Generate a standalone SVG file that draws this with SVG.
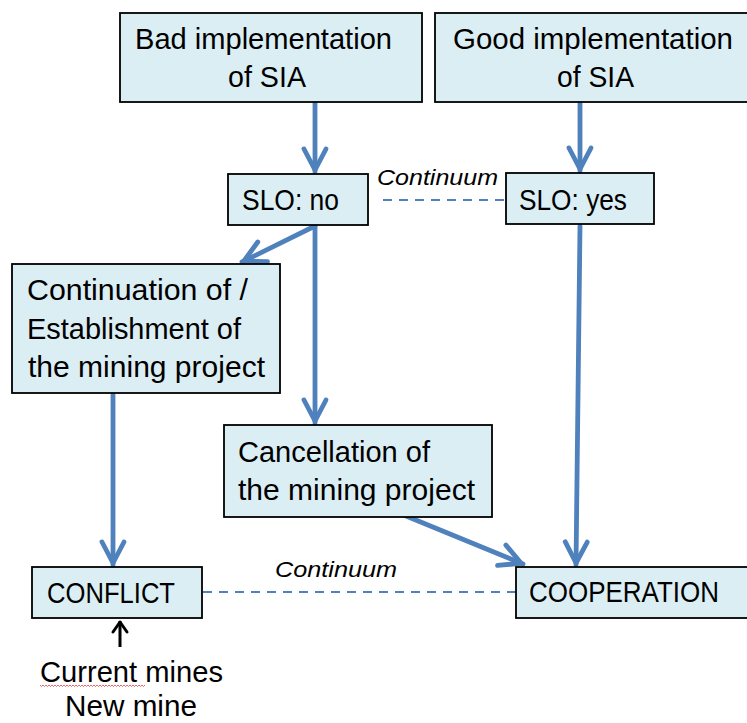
<svg xmlns="http://www.w3.org/2000/svg" width="747" height="723" viewBox="0 0 747 723">
<defs>
<style>
.box{fill:#DBEEF4;stroke:#000;stroke-width:1.8}
.t{font-family:"Liberation Sans",Arial,sans-serif;font-size:29px;fill:#000}
.it{font-family:"Liberation Sans",Arial,sans-serif;font-size:22px;font-style:italic;fill:#000}
.c{stroke:#4F81BD;stroke-width:4.8;fill:none;stroke-linecap:round}
.d{stroke:#4F81BD;stroke-width:2;fill:none;stroke-dasharray:9 7}
</style>
<marker id="ah" markerUnits="userSpaceOnUse" orient="auto" markerWidth="30" markerHeight="30" refX="2" refY="0" viewBox="-25 -15 30 30" overflow="visible">
<path d="M-21,-11 L0,0 L-21,11" fill="none" stroke="#4F81BD" stroke-width="4.8" stroke-linecap="round" stroke-linejoin="round"/>
</marker>
<marker id="ahk" markerUnits="userSpaceOnUse" orient="auto" markerWidth="20" markerHeight="20" refX="1" refY="0" viewBox="-15 -10 20 20" overflow="visible">
<path d="M-10,-7 L0,0 L-10,7" fill="none" stroke="#000" stroke-width="3" stroke-linecap="round" stroke-linejoin="round"/>
</marker>
</defs>
<rect width="747" height="723" fill="#fff"/>
<g id="connectors">
<line class="c" x1="315" y1="102" x2="315" y2="172" marker-end="url(#ah)"/>
<line class="c" x1="580" y1="102" x2="580" y2="171" marker-end="url(#ah)"/>
<line class="c" x1="315" y1="226" x2="242" y2="262" marker-end="url(#ah)"/>
<line class="c" x1="315" y1="226" x2="315" y2="423" marker-end="url(#ah)"/>
<line class="c" x1="113" y1="395" x2="113" y2="565" marker-end="url(#ah)"/>
<line class="c" x1="406" y1="516" x2="523" y2="564" marker-end="url(#ah)"/>
<line class="c" x1="580" y1="226" x2="576" y2="565" marker-end="url(#ah)"/>
<line x1="120" y1="647" x2="120" y2="621" stroke="#000" stroke-width="3" marker-end="url(#ahk)"/>
<line class="d" x1="383" y1="200" x2="505" y2="200"/>
<line class="d" x1="203" y1="592" x2="516" y2="592"/>
<text class="it" x="377" y="185" textLength="121" lengthAdjust="spacingAndGlyphs">Continuum</text>
<text class="it" x="275" y="577" textLength="122" lengthAdjust="spacingAndGlyphs">Continuum</text>
</g>
<g id="bad">
<rect class="box" x="120" y="13" width="302" height="89"/>
<text class="t" x="135" y="49" textLength="257" lengthAdjust="spacingAndGlyphs">Bad implementation</text>
<text class="t" x="228" y="87" textLength="78" lengthAdjust="spacingAndGlyphs">of SIA</text>
</g>
<g id="good">
<rect class="box" x="435" y="13" width="330" height="89"/>
<text class="t" x="453" y="49" textLength="280" lengthAdjust="spacingAndGlyphs">Good implementation</text>
<text class="t" x="557" y="87" textLength="77" lengthAdjust="spacingAndGlyphs">of SIA</text>
</g>
<g id="slo-no">
<rect class="box" x="228" y="174" width="140" height="51"/>
<text class="t" x="242" y="210" textLength="97" lengthAdjust="spacingAndGlyphs">SLO: no</text>
</g>
<g id="slo-yes">
<rect class="box" x="506" y="173" width="148" height="51"/>
<text class="t" x="519" y="210" textLength="108" lengthAdjust="spacingAndGlyphs">SLO: yes</text>
</g>
<g id="continuation">
<rect class="box" x="12" y="264" width="268" height="129"/>
<text class="t" x="27" y="300" textLength="221" lengthAdjust="spacingAndGlyphs">Continuation of /</text>
<text class="t" x="27" y="339" textLength="214" lengthAdjust="spacingAndGlyphs">Establishment of</text>
<text class="t" x="28" y="377" textLength="237" lengthAdjust="spacingAndGlyphs">the mining project</text>
</g>
<g id="cancellation">
<rect class="box" x="224" y="425" width="268" height="92"/>
<text class="t" x="238" y="462" textLength="192" lengthAdjust="spacingAndGlyphs">Cancellation of</text>
<text class="t" x="238" y="500" textLength="237" lengthAdjust="spacingAndGlyphs">the mining project</text>
</g>
<g id="conflict">
<rect class="box" x="32" y="567" width="170" height="51"/>
<text class="t" x="47" y="603" textLength="128" lengthAdjust="spacingAndGlyphs">CONFLICT</text>
</g>
<g id="cooperation">
<rect class="box" x="516" y="567" width="250" height="51"/>
<text class="t" x="529" y="602" textLength="190" lengthAdjust="spacingAndGlyphs">COOPERATION</text>
</g>
<g id="mines">
<text class="t" x="40" y="682" textLength="183" lengthAdjust="spacingAndGlyphs">Current mines</text>
<path d="M40,685 l1.5,1.5 1.5,-1.5 1.5,1.5 1.5,-1.5 1.5,1.5 1.5,-1.5 1.5,1.5 1.5,-1.5 1.5,1.5 1.5,-1.5 1.5,1.5 1.5,-1.5 1.5,1.5 1.5,-1.5 1.5,1.5 1.5,-1.5 1.5,1.5 1.5,-1.5 1.5,1.5 1.5,-1.5 1.5,1.5 1.5,-1.5 1.5,1.5 1.5,-1.5 1.5,1.5 1.5,-1.5 1.5,1.5 1.5,-1.5 1.5,1.5 1.5,-1.5 1.5,1.5 1.5,-1.5 1.5,1.5 1.5,-1.5 1.5,1.5 1.5,-1.5 1.5,1.5 1.5,-1.5 1.5,1.5 1.5,-1.5 1.5,1.5 1.5,-1.5 1.5,1.5 1.5,-1.5 1.5,1.5 1.5,-1.5 1.5,1.5 1.5,-1.5 1.5,1.5 1.5,-1.5 1.5,1.5 1.5,-1.5 1.5,1.5 1.5,-1.5 1.5,1.5 1.5,-1.5 1.5,1.5 1.5,-1.5 1.5,1.5 1.5,-1.5 1.5,1.5 1.5,-1.5 1.5,1.5 1.5,-1.5 1.5,1.5 1.5,-1.5 1.5,1.5 1.5,-1.5 1.5,1.5 1.5,-1.5" fill="none" stroke="#E04040" stroke-width="0.8"/>
<text class="t" x="65" y="716" textLength="132" lengthAdjust="spacingAndGlyphs">New mine</text>
</g>
</svg>
